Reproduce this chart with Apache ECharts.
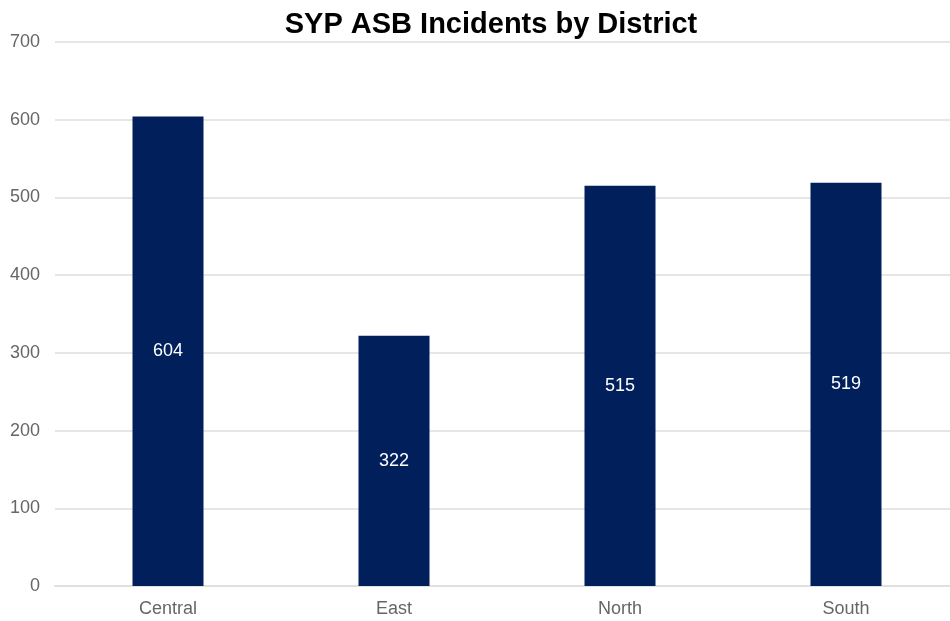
<!DOCTYPE html>
<html><head><meta charset="utf-8">
<script src="https://cdn.jsdelivr.net/npm/echarts@6/dist/echarts.min.js"></script>
<style>html,body{margin:0;padding:0;background:#fff;overflow:hidden}#c{width:959px;height:621px}</style>
</head><body><div id="c"></div>
<script>
const categories = ["Central", "East", "North", "South"];
const incidents = [604, 322, 515, 519];
const chart = echarts.init(document.getElementById('c'), null, {renderer: 'canvas'});
chart.setOption({
  animation: false,
  title: {
    text: 'SYP ASB Incidents by District',
    left: 486, top: 5, textAlign: 'center',
    textStyle: {fontFamily: 'Liberation Sans, Arial', fontWeight: 'bold', fontSize: 29, color: '#000'}
  },
  grid: {left: 55, top: 42, right: 0, bottom: 35, containLabel: false},
  xAxis: {
    type: 'category', data: categories,
    axisLine: {lineStyle: {color: '#e0e0e0', width: 2}},
    axisTick: {show: false},
    axisLabel: {color: '#666', fontSize: 18, fontFamily: 'Liberation Sans, Arial', margin: 14}
  },
  yAxis: {
    type: 'value', min: 0, max: 700, interval: 100,
    axisLine: {show: false}, axisTick: {show: false},
    splitLine: {lineStyle: {color: '#e6e6e6', width: 2}},
    axisLabel: {color: '#666', fontSize: 18, fontFamily: 'Liberation Sans, Arial', margin: 15}
  },
  series: [{
    type: 'bar', data: incidents, barWidth: 71,
    itemStyle: {color: '#001f5b'},
    label: {show: true, position: 'inside', color: '#fff', fontSize: 18, fontFamily: 'Liberation Sans, Arial'}
  }]
});
</script></body></html>
